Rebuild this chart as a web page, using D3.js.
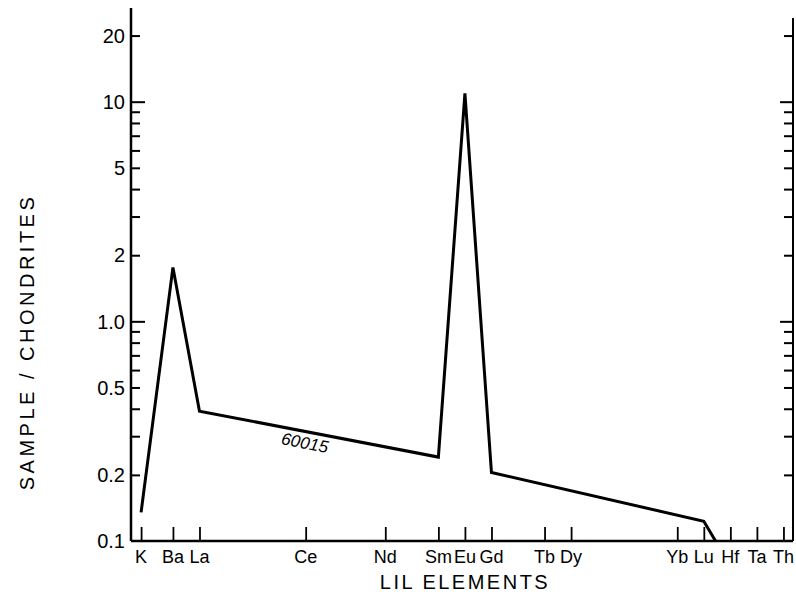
<!DOCTYPE html>
<html><head><meta charset="utf-8">
<script src="https://cdn.jsdelivr.net/npm/d3@7"></script>
<style>body{margin:0;background:#fff}svg{display:block}</style>
</head><body>
<script>
// Elements (x-axis categories) and their relative positions along the axis
const elements = ["K","Ba","La","Ce","Nd","Sm","Eu","Gd","Tb","Dy","Yb","Lu","Hf","Ta","Th"];
const elementPos = [-0.2, 1, 2, 6, 9, 11, 12, 13, 15, 16, 20, 21, 22, 23, 24];
// Sample 60015 normalized to chondrites
const seriesElements = ["K","Ba","La","Sm","Eu","Gd","Lu","Hf"];
const seriesValues = [0.135, 1.76, 0.39, 0.241, 10.9, 0.205, 0.123, 0.077];
const seriesName = "60015";
// Y axis
const yLabeledTicks = [20, 10, 5, 2, 1, 0.5, 0.2, 0.1];
const yLabelText = ["20", "10", "5", "2", "1.0", "0.5", "0.2", "0.1"];
const yMinorTicks = [0.1,0.2,0.3,0.4,0.5,0.6,0.7,0.8,0.9,1,2,3,4,5,6,7,8,9,10,20];
const yTitle = "SAMPLE / CHONDRITES";
const xTitle = "LIL ELEMENTS";

const W = 796, H = 604;
const L = 131, R = 793, T = 8, B = 541;
const svg = d3.select("body").append("svg").attr("width", W).attr("height", H);
const x = d3.scaleLinear().domain([-0.58, 24.36]).range([L, R]);
const y = d3.scaleLog().domain([0.1, 26.7]).range([B, T]);
const posOf = Object.fromEntries(elements.map((e, i) => [e, elementPos[i]]));
const font = "'Liberation Sans', Arial, sans-serif";

// clip
svg.append("defs").append("clipPath").attr("id", "plot")
  .append("rect").attr("x", L).attr("y", T).attr("width", R - L).attr("height", B - T);

// left axis
const leftAxis = d3.axisRight(y).tickValues(yMinorTicks).tickFormat("")
  .tickSize(9).tickSizeOuter(0);
const gl = svg.append("g").attr("transform", `translate(${L},0)`).call(leftAxis);
gl.select(".domain").attr("stroke", "#000").attr("stroke-width", 2.5).attr("d", `M0,${T}V${B}`);
gl.selectAll(".tick line").attr("stroke", "#000").attr("stroke-width", 2)
  .attr("x2", d => (d === 10 || d === 1) ? 14 : 9);
gl.selectAll(".tick").filter(d => d === 0.1).remove();
// left labels
svg.append("g").selectAll("text").data(yLabeledTicks).join("text")
  .attr("x", L - 6).attr("y", d => y(d)).attr("dy", "0.36em")
  .attr("text-anchor", "end").attr("font-family", font).attr("font-size", 20)
  .text((d, i) => yLabelText[i]);

// right axis
const rightAxis = d3.axisLeft(y).tickValues(yMinorTicks).tickFormat("")
  .tickSize(9).tickSizeOuter(0);
const gr = svg.append("g").attr("transform", `translate(${R},0)`).call(rightAxis);
gr.select(".domain").attr("stroke", "#000").attr("stroke-width", 2).attr("d", `M0,${T + 10}V${B}`);
gr.selectAll(".tick line").attr("stroke", "#000").attr("stroke-width", 2)
  .attr("x2", d => (d === 10 || d === 1) ? -13 : -9);
gr.selectAll(".tick").filter(d => d === 0.1).remove();

// bottom axis
const bottomAxis = d3.axisTop(x).tickValues(elementPos).tickFormat("").tickSize(14).tickSizeOuter(0);
const gb = svg.append("g").attr("transform", `translate(0,${B})`).call(bottomAxis);
gb.select(".domain").attr("stroke", "#000").attr("stroke-width", 2.5).attr("d", `M${L},0H${R}`);
gb.selectAll(".tick line").attr("stroke", "#000").attr("stroke-width", 1.8);
svg.append("g").selectAll("text").data(elements).join("text")
  .attr("x", (d, i) => x(elementPos[i])).attr("y", B + 22)
  .attr("text-anchor", "middle").attr("font-family", font).attr("font-size", 18)
  .text(d => d);

// titles
svg.append("text").attr("x", 465).attr("y", 589).attr("text-anchor", "middle")
  .attr("font-family", font).attr("font-size", 20).attr("letter-spacing", 2.5)
  .text(xTitle);
svg.append("text").attr("transform", "translate(34,342) rotate(-90)").attr("text-anchor", "middle")
  .attr("font-family", font).attr("font-size", 20).attr("letter-spacing", 3.5)
  .text(yTitle);

// line
const pts = seriesElements.map((e, i) => [posOf[e], seriesValues[i]]);
const line = d3.line().x(d => x(d[0])).y(d => y(d[1]));
svg.append("path").datum(pts).attr("d", line).attr("fill", "none")
  .attr("stroke", "#000").attr("stroke-width", 3).attr("stroke-linejoin", "miter")
  .attr("clip-path", "url(#plot)");

// series label along La-Sm segment
const a = pts[2], b = pts[3];
const t = 0.45;
const lu = a[0] + (b[0] - a[0]) * t;
const lv = Math.pow(10, Math.log10(a[1]) + (Math.log10(b[1]) - Math.log10(a[1])) * t);
const ang = Math.atan2(y(b[1]) - y(a[1]), x(b[0]) - x(a[0])) * 180 / Math.PI;
svg.append("text").attr("transform", `translate(${x(lu)},${y(lv)}) rotate(${ang}) translate(0,17)`)
  .attr("text-anchor", "middle").attr("font-family", font).attr("font-size", 17)
  .attr("font-style", "italic").text(seriesName);
</script>
</body></html>
